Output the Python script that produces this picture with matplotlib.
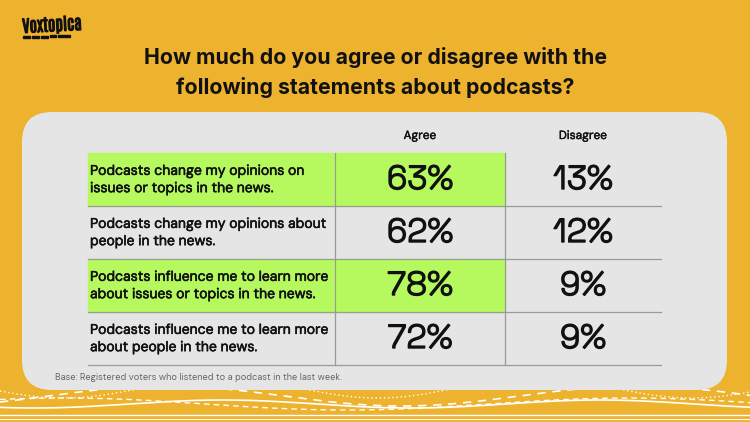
import numpy as np
import matplotlib
import matplotlib.pyplot as plt
import matplotlib.patheffects as pe
from matplotlib.patches import FancyBboxPatch, Rectangle

matplotlib.use('Agg')

statements = [
    "Podcasts change my opinions on\nissues or topics in the news.",
    "Podcasts change my opinions about\npeople in the news.",
    "Podcasts influence me to learn more\nabout issues or topics in the news.",
    "Podcasts influence me to learn more\nabout people in the news.",
]
agree = [63, 62, 78, 72]
disagree = [13, 12, 9, 9]
highlight = [True, False, True, False]
columns = ["Agree", "Disagree"]

title = "How much do you agree or disagree with the\nfollowing statements about podcasts?"
note = "Base: Registered voters who listened to a podcast in the last week."

BG = '#EDB22E'
PANEL = '#E5E5E5'
GREEN = '#B5F95F'
LINE = '#9A9A9A'
INK = '#111111'

# thicken the single-weight fonts a little
def heavy(w):
    return [pe.withStroke(linewidth=w, foreground=INK)]

fig = plt.figure(figsize=(7.5, 4.22), dpi=100)
fig.patch.set_facecolor(BG)
ax = fig.add_axes([0, 0, 1, 1])
ax.set_xlim(0, 750)
ax.set_ylim(422, 0)
ax.axis('off')

# decorative waves at the bottom
xs = np.linspace(0, 750, 600)
ax.plot(xs, 404 + 4 * np.sin(xs / 60 + 1.0), color='white', lw=1.2, zorder=1)
ax.plot(xs, 396 + 10 * np.sin(xs / 75 + 2.5), color='white', lw=1.2, ls=(0, (5, 4)), zorder=1)
ax.plot(xs, 388 + 10 * np.sin(xs / 50 + 0.3), color='white', lw=1.0, ls=(0, (1, 2)), zorder=1)
ax.plot(xs, 404 + 6 * np.sin(xs / 90 + 4.0), color='white', lw=1.0, ls=(0, (4, 3)), zorder=1)
ax.axhline(415, color='white', lw=1.0, zorder=1)
ax.axhline(419, color='white', lw=0.8, zorder=1)

# panel
panel = FancyBboxPatch((22, 112), 705, 278, boxstyle="round,pad=0,rounding_size=30",
                       facecolor=PANEL, edgecolor='none', zorder=2)
ax.add_patch(panel)

# logo
ax.text(22, 33, "Voxtopica", fontsize=12, family='Antonio', fontweight='bold',
        rotation=3, va='baseline', ha='left', color=INK, zorder=3, path_effects=heavy(0.8))
for x0, w in [(23, 7), (32, 7), (41, 7), (50, 6), (58, 12)]:
    ax.add_patch(Rectangle((x0, 36.5 - (x0 - 22) * 0.05), w, 2, color=INK, zorder=3))

ax.text(375, 72.5, title, fontsize=15.3, fontweight='bold', family='Inter', ha='center',
        va='center', color=INK, linespacing=1.5, zorder=3)

x_lab, x_c1, x_c2, x_end = 88, 335, 505, 661
top, row_h = 153, 53
centers = [(x_c1 + x_c2) / 2, (x_c2 + x_end) / 2]

for c, name in enumerate(columns):
    ax.text(centers[c], 136, name, fontsize=8.5, family='DM Sans', ha='center', va='center',
            color=INK, zorder=3, path_effects=heavy(0.3))

for i, s in enumerate(statements):
    y0 = top + i * row_h
    if highlight[i]:
        ax.add_patch(Rectangle((x_lab, y0), x_c2 - x_lab, row_h, color=GREEN, zorder=2.5))
    ax.text(x_lab + 2, y0 + row_h / 2, s, fontsize=10, family='DM Sans', ha='left', va='center',
            color=INK, linespacing=1.3, zorder=3, path_effects=heavy(0.4))
    ax.text(centers[0], y0 + row_h / 2 + 1, f"{agree[i]}%", fontsize=24, family='Space Grotesk',
            ha='center', va='center', color=INK, zorder=3, path_effects=heavy(1.0))
    ax.text(centers[1], y0 + row_h / 2 + 1, f"{disagree[i]}%", fontsize=24, family='Space Grotesk',
            ha='center', va='center', color=INK, zorder=3, path_effects=heavy(1.0))
    ax.plot([x_lab, x_end], [y0 + row_h, y0 + row_h], color=LINE, lw=0.9, zorder=3)

n = len(statements)
for xv in (x_c1, x_c2):
    ax.plot([xv, xv], [top, top + n * row_h], color=LINE, lw=0.9, zorder=3)

ax.text(55, 377, note, fontsize=6.6, family='DM Sans', ha='left', va='center',
        color='#666666', zorder=3)

fig.savefig('out.png', dpi=100, facecolor=BG)
